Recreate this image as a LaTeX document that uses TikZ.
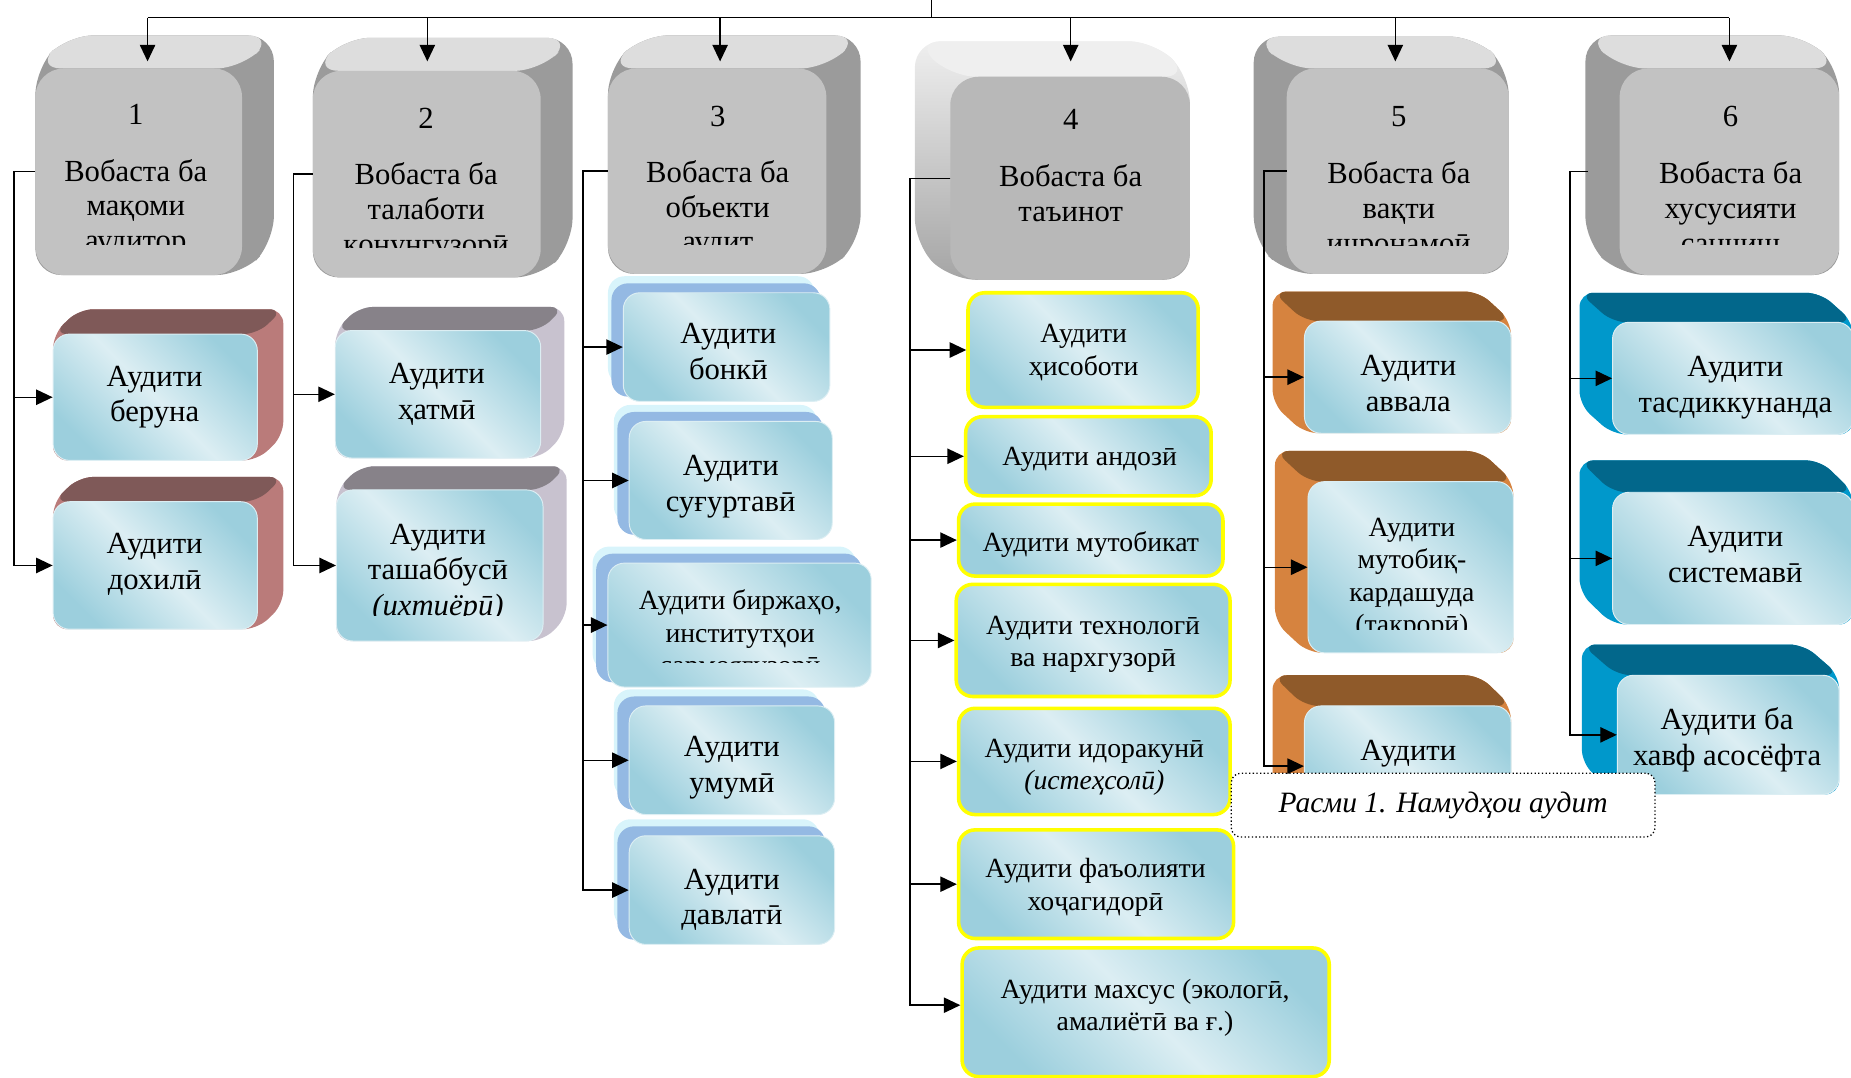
\documentclass[tikz,border=0pt]{standalone}
\usepackage{fontspec}
\setmainfont{Liberation Serif}
\usetikzlibrary{arrows.meta}

\definecolor{facelight}{HTML}{DCEEF3}
\definecolor{facedark}{HTML}{9CCFDD}
\definecolor{hdfront}{HTML}{C2C2C2}
\definecolor{hdfrontb}{HTML}{B8B8B8}
\definecolor{hdtop}{HTML}{DDDDDD}
\definecolor{hdtopb}{HTML}{EFEFEF}
\definecolor{hdside}{HTML}{9B9B9B}
\definecolor{redtop}{HTML}{7F5958}
\definecolor{redside}{HTML}{BA7B7A}
\definecolor{greytop}{HTML}{878289}
\definecolor{greyside}{HTML}{C8C2CF}
\definecolor{glow}{HTML}{D8F4FB}
\definecolor{blueback}{HTML}{94B9E3}
\definecolor{yborder}{HTML}{FFFF00}
\definecolor{browntop}{HTML}{8F5A2A}
\definecolor{brownside}{HTML}{D6833F}
\definecolor{tealtop}{HTML}{02678B}
\definecolor{tealside}{HTML}{0098CB}

% extruded block, depth towards upper right: top style, side style, x1, y1, x2, y2, dx, dy
\newcommand\cubeR[8]{%
  \path[ext,#2] (#3,#6) -- (#3,#4) -- ({#3+#7},{#4-#8}) -- ({#5+#7},{#4-#8}) -- ({#5+#7},{#6-#8}) -- (#5,#6) -- cycle;
  \path[ext,#1] (#3,#4) -- ({#3+#7},{#4-#8}) -- ({#5+#7},{#4-#8}) -- (#5,#4) -- cycle;}
% extruded block, depth towards upper left
\newcommand\cubeL[8]{%
  \path[ext,#2] (#5,#6) -- (#5,#4) -- ({#5-#7},{#4-#8}) -- ({#3-#7},{#4-#8}) -- ({#3-#7},{#6-#8}) -- (#3,#6) -- cycle;
  \path[ext,#1] (#5,#4) -- ({#5-#7},{#4-#8}) -- ({#3-#7},{#4-#8}) -- (#3,#4) -- cycle;}
% front face: style, name, x1, y1, x2, y2
\newcommand\boxface[6]{%
  \node[#1, minimum width={(#5-#3)*1pt}, minimum height={(#6-#4)*1pt}] (#2) at ({(#3+#5)/2},{(#4+#6)/2}) {};}
% stacked face with glow and blue backing
\newcommand\stackface[5]{%
  \fill[glow, rounded corners=14pt] ({#2-13},{#3-14}) rectangle ({#4-13},{#5-14});
  \fill[blueback, rounded corners=14pt] ({#2-10},{#3-8}) rectangle ({#4-8},{#5-4});
  \boxface{face}{#1}{#2}{#3}{#4}{#5}}
% text: style, name, x, y of first line, text
\newcommand\boxtext[5]{\node[#1] (#2) at (#3,#4) {\strut#5};}
% text cut off below a given y
\newcommand\boxcliptext[6]{%
  \begin{scope}\clip (0,0) rectangle (1568,#5);\boxtext{#1}{#2}{#3}{#4}{#6}\end{scope}}

\begin{document}
\begin{tikzpicture}[x=1pt, y=-1pt,
  ext/.style={rounded corners=12pt},
  conn/.style={line width=1.2pt, black},
  arr/.style={conn, -{Triangle[length=14pt,width=13pt]}},
  hface/.style={rounded corners=24pt, fill=hdfront, inner sep=0pt},
  hfaceb/.style={hface, fill=hdfrontb},
  face/.style={rounded corners=14pt, top color=facedark, bottom color=facedark, middle color=facelight, shading angle=-45, draw=facedark!35!white, line width=0.8pt, inner sep=0pt},
  yface/.style={face, draw=yborder, line width=3pt},
  lbl/.style={align=center, anchor=north, inner sep=0pt},
  big/.style={lbl, font=\fontsize{26}{30}\selectfont, yshift=13pt},
  small/.style={lbl, font=\fontsize{23.5}{27.5}\selectfont, yshift=12pt},
  head/.style={lbl, font=\fontsize{26}{29.5}\selectfont, yshift=12pt},
  caption/.style={draw, dotted, line width=1.1pt, rounded corners=8pt, fill=white, inner sep=0pt, font=\fontsize{25}{30}\selectfont\itshape}]
\useasboundingbox (0,0) rectangle (1568,913);
\clip (0,0) rectangle (1568,913);

% ---- header blocks
\begin{scope}[ext/.style={rounded corners=22pt}]
\cubeR{fill=hdtop}{fill=hdside}{30}{58}{205}{233}{27}{28}
\boxface{hface}{h1}{30}{58}{205}{233}
\cubeR{fill=hdtop}{fill=hdside}{265}{60}{458}{235}{27}{28}
\boxface{hface}{h2}{265}{60}{458}{235}
\cubeR{fill=hdtop}{fill=hdside}{515}{58}{700}{232}{29}{28}
\boxface{hface}{h3}{515}{58}{700}{232}
\cubeL{fill=hdtopb}{top color=hdtopb, bottom color=hdside!90!white}{805}{65}{1008}{237}{30}{30}
\boxface{hfaceb}{h4}{805}{65}{1008}{237}
\cubeL{fill=hdtop}{fill=hdside}{1090}{58}{1278}{232}{28}{27}
\boxface{hface}{h5}{1090}{58}{1278}{232}
\cubeL{fill=hdtop}{fill=hdside}{1372}{58}{1558}{233}{29}{28}
\boxface{hface}{h6}{1372}{58}{1558}{233}
\end{scope}
\boxcliptext{head}{h1t}{115}{97}{207}{1\\[18pt]Вобаста ба\\мақоми\\аудитор}
\boxcliptext{head}{h2t}{361}{100}{210}{2\\[18pt]Вобаста ба\\талаботи\\қонунгузорӣ}
\boxcliptext{head}{h3t}{608}{98}{207}{3\\[18pt]Вобаста ба\\объекти\\аудит}
\boxtext{head}{h4t}{907}{101}{4\\[19pt]Вобаста ба\\таъинот}
\boxcliptext{head}{h5t}{1185}{98}{208}{5\\[19pt]Вобаста ба\\вақти\\иҷронамоӣ}
\boxcliptext{head}{h6t}{1466}{98}{207}{6\\[19pt]Вобаста ба\\хусусияти\\санҷиш}

% ---- column 1
\cubeR{fill=redtop}{fill=redside}{45}{283}{218}{390}{22}{21}
\boxface{face}{a1}{45}{283}{218}{390}
\boxtext{big}{a1t}{131}{319}{Аудити\\беруна}
\cubeR{fill=redtop}{fill=redside}{45}{425}{218}{533}{22}{21}
\boxface{face}{a2}{45}{425}{218}{533}
\boxtext{big}{a2t}{131}{461}{Аудити\\дохилӣ}

% ---- column 2
\cubeR{fill=greytop}{fill=greyside}{284}{280}{458}{388}{20}{20}
\boxface{face}{b1}{284}{280}{458}{388}
\boxtext{big}{b1t}{370}{317}{Аудити\\ҳатмӣ}
\cubeR{fill=greytop}{fill=greyside}{285}{415}{460}{543}{20}{20}
\boxface{face}{b2}{285}{415}{460}{543}
\boxcliptext{big}{b2t}{371}{453}{521}{Аудити\\ташаббусӣ\\\textit{(ихтиёрӣ)}}

% ---- column 3
\stackface{c1}{528}{248}{703}{340}
\boxtext{big}{c1t}{617}{283}{Аудити\\бонкӣ}
\stackface{c2}{533}{357}{705}{457}
\boxtext{big}{c2t}{619}{395}{Аудити\\суғуртавӣ}
\stackface{c3}{515}{477}{738}{582}
\boxcliptext{small}{c3t}{627}{509}{561}{Аудити биржаҳо,\\институтҳои\\сармоягузорӣ}
\stackface{c4}{533}{598}{707}{690}
\boxtext{big}{c4t}{620}{633}{Аудити\\умумӣ}
\stackface{c5}{533}{708}{707}{800}
\boxtext{big}{c5t}{620}{745}{Аудити\\давлатӣ}

% ---- column 4
\boxface{yface}{d1}{820}{248}{1015}{345}
\boxtext{small}{d1t}{918}{283}{Аудити\\ҳисоботи}
\boxface{yface}{d2}{818}{353}{1026}{420}
\boxtext{small}{d2t}{923}{387}{Аудити андозӣ}
\boxface{yface}{d3}{812}{427}{1036}{488}
\boxtext{small}{d3t}{924}{460}{Аудити мутобикат}
\boxface{yface}{d4}{810}{495}{1042}{590}
\boxtext{small}{d4t}{926}{530}{Аудити технологӣ\\ва нархгузорӣ}
\boxface{yface}{d5}{812}{600}{1042}{690}
\boxtext{small}{d5t}{927}{634}{Аудити идоракунӣ\\\textit{(истеҳсолӣ)}}
\boxface{yface}{d6}{812}{703}{1045}{795}
\boxtext{small}{d6t}{928}{736}{Аудити фаъолияти\\хоҷагидорӣ}
\boxface{yface}{d7}{815}{803}{1126}{912}
\boxtext{small}{d7t}{970}{838}{Аудити махсус (экологӣ,\\амалиётӣ ва ғ.)}

% ---- column 5
\cubeL{fill=browntop}{fill=brownside}{1105}{272}{1280}{367}{27}{25}
\boxface{face}{e1}{1105}{272}{1280}{367}
\boxtext{big}{e1t}{1193}{310}{Аудити\\аввала}
\cubeL{fill=browntop}{fill=brownside}{1108}{408}{1282}{553}{28}{26}
\boxface{face}{e2}{1108}{408}{1282}{553}
\boxcliptext{small}{e2t}{1196}{447}{533}{Аудити\\мутобиқ-\\кардашуда\\(такрорӣ)}
\cubeL{fill=browntop}{fill=brownside}{1105}{598}{1280}{700}{27}{26}
\boxface{face}{e3}{1105}{598}{1280}{700}
\boxtext{big}{e3t}{1193}{636}{Аудити}

% ---- column 6
\cubeL{fill=tealtop}{fill=tealside}{1366}{273}{1570}{368}{28}{25}
\boxface{face}{f1}{1366}{273}{1570}{368}
\boxtext{big}{f1t}{1470}{311}{Аудити\\тасдиккунанда}
\cubeL{fill=tealtop}{fill=tealside}{1366}{417}{1570}{529}{28}{27}
\boxface{face}{f2}{1366}{417}{1570}{529}
\boxtext{big}{f2t}{1470}{455}{Аудити\\системавӣ}
\cubeL{fill=tealtop}{fill=tealside}{1370}{572}{1558}{673}{30}{26}
\boxface{face}{f3}{1370}{572}{1558}{673}
\boxtext{big}{f3t}{1463}{610}{Аудити ба\\хавф асосёфта}

% ---- caption
\node[caption, minimum width=359pt, minimum height=54pt] (cap) at (1222.5,682) {Расми 1. Намудҳои аудит};

% ---- connectors
\coordinate (root) at (789,0);
\coordinate (bus) at (789,15);
\coordinate (tips) at (0,52);
\coordinate (t1) at (125,15);
\coordinate (t2) at (362,15);
\coordinate (t3) at (610,15);
\coordinate (t4) at (907,15);
\coordinate (t5) at (1182,15);
\coordinate (t6) at (1465,15);
\draw[conn] (root) -- (bus);
\draw[conn] (t1) -- (t6);
\foreach \t in {t1,t2,t3,t4,t5,t6} \draw[arr] (\t) -- (\t |- tips);

\foreach \n in {a1,a2} \draw[arr] (h1.west) -- ++(-18,0) |- (\n.west);
\foreach \n in {b1,b2} \draw[arr] (h2.west) -- ++(-16,0) |- (\n.west);
\foreach \n in {c1,c2,c3,c4,c5} \draw[arr] (h3.west) -- ++(-21,0) |- (\n.west);
\foreach \n in {d1,d2,d3,d4,d5,d6} \draw[arr] (h4.west) -- ++(-34,0) |- (\n.west);
\draw[arr] (h4.west) -- ++(-34,0) |- ([yshift=6pt]d7.west);
\foreach \n in {e1,e2,e3} \draw[arr] (h5.west) -- ++(-19,0) |- (\n.west);
\foreach \n in {f1,f2,f3} \draw[arr] ([xshift=-27pt]h6.west) -- ++(-15,0) |- (\n.west);
\end{tikzpicture}
\end{document}
